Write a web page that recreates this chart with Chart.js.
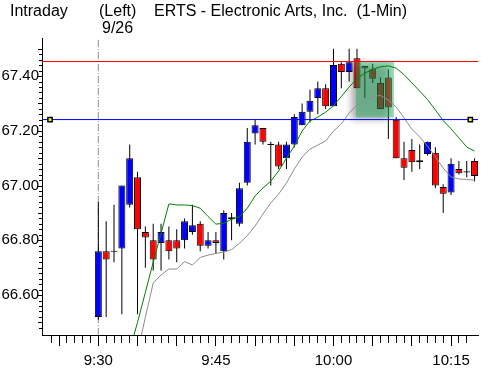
<!DOCTYPE html>
<html lang="en">
<head>
<meta charset="UTF-8">
<title>ERTS Intraday 1-Min</title>
<script src="https://cdn.jsdelivr.net/npm/chart.js"></script>
<style>
    body { margin: 0; background: #fff; }
    #wrap { position: relative; width: 495px; height: 371px; }
    #chart { position: absolute; left: 0; top: 0; }
    .lbl {
        position: absolute;
        font-family: 'Liberation Sans', Arial, sans-serif;
        font-size: 16px;
        line-height: 16px;
        color: #000;
        white-space: pre;
    }
</style>
</head>
<body>
<div id="wrap">
    <canvas id="chart" width="495" height="371"></canvas>
    <div class="lbl" style="left:10px;top:3px">Intraday</div>
    <div class="lbl" style="left:99px;top:3px">(Left)</div>
    <div class="lbl" style="left:102px;top:20px">9/26</div>
    <div class="lbl" style="left:154px;top:3px">ERTS - Electronic Arts, Inc.  (1-Min)</div>
</div>

<script>
// one candle per minute
var times = ['9:30','9:31','9:32','9:33','9:34','9:35','9:36','9:37','9:38','9:39',
             '9:40','9:41','9:42','9:43','9:44','9:45','9:46','9:47','9:48','9:49',
             '9:50','9:51','9:52','9:53','9:54','9:55','9:56','9:57','9:58','9:59',
             '10:00','10:01','10:02','10:03','10:04','10:05','10:06','10:07','10:08','10:09',
             '10:10','10:11','10:12','10:13','10:14','10:15','10:16','10:17','10:18'];
var opens  = [66.52, 66.76, 66.76, 66.77, 66.93, 67.03, 66.83, 66.80, 66.79, 66.80,
              66.80, 66.80, 66.83, 66.86, 66.78, 66.80, 66.76, 66.884, 66.86, 67.01,
              67.19, 67.21, 67.15, 67.15, 67.10, 67.15, 67.22, 67.27, 67.32, 67.355,
              67.29, 67.445, 67.415, 67.465, 67.437, 67.425, 67.375, 67.395, 67.24, 67.10,
              67.13, 67.085, 67.115, 67.12, 66.995, 66.975, 67.06, 67.05, 67.09];
var highs  = [66.94, 66.87, 66.93, 67.00, 67.15, 67.05, 66.85, 66.86, 66.86, 66.85,
              66.84, 66.88, 66.93, 66.87, 66.83, 66.83, 66.91, 66.90, 67.01, 67.21,
              67.24, 67.21, 67.16, 67.16, 67.16, 67.26, 67.30, 67.35, 67.38, 67.37,
              67.50, 67.45, 67.50, 67.50, 67.437, 67.445, 67.395, 67.425, 67.25, 67.16,
              67.17, 67.15, 67.16, 67.14, 67.005, 67.10, 67.09, 67.09, 67.10];
var lows   = [66.51, 66.52, 66.72, 66.53, 66.92, 66.53, 66.70, 66.69, 66.69, 66.73,
              66.72, 66.77, 66.82, 66.76, 66.77, 66.75, 66.73, 66.80, 66.85, 67.00,
              67.15, 67.15, 67.00, 67.06, 67.06, 67.14, 67.22, 67.23, 67.26, 67.28,
              67.29, 67.355, 67.38, 67.355, 67.32, 67.375, 67.28, 67.17, 67.10, 67.02,
              67.05, 67.06, 67.11, 66.99, 66.90, 66.965, 67.04, 67.03, 67.015];
var closes = [66.76, 66.73, 66.76, 67.00, 67.10, 66.84, 66.81, 66.73, 66.83, 66.76,
              66.77, 66.87, 66.855, 66.78, 66.80, 66.79, 66.90, 66.877, 66.99, 67.16,
              67.22, 67.16, 67.15, 67.07, 67.15, 67.25, 67.27, 67.31, 67.355, 67.29,
              67.44, 67.415, 67.45, 67.355, 67.428, 67.39, 67.28, 67.285, 67.10, 67.065,
              67.085, 67.092, 67.16, 67.00, 66.97, 67.08, 67.045, 67.05, 67.035];

// moving averages (null = not drawn)
var maShort = [null, null, null, null, 66.40, 66.50, 66.61, 66.72, 66.825, 66.933,
               66.929, 66.929, 66.927, 66.917, 66.887, 66.859, 66.862, 66.877, 66.886, 66.917,
               66.962, 66.991, 67.016, 67.053, 67.10, 67.144, 67.199, 67.236, 67.25, 67.268,
               67.292, 67.325, 67.36, 67.391, 67.411, 67.424, 67.434, 67.437, 67.429, 67.405,
               67.375, 67.345, 67.314, 67.276, 67.237, 67.207, 67.174, 67.141, 67.126];
var maLong  = [null, null, null, null, null, 66.39, 66.519, 66.644, 66.673, 66.695,
               66.695, 66.722, 66.71, 66.737, 66.746, 66.752, 66.757, 66.766, 66.789, 66.817,
               66.852, 66.896, 66.936, 66.969, 67.009, 67.06, 67.104, 67.133, 67.148, 67.163,
               67.199, 67.225, 67.265, 67.294, 67.312, 67.325, 67.329, 67.312, 67.287, 67.247,
               67.206, 67.177, 67.144, 67.104, 67.064, 67.031, 67.024, 67.022, 67.02];

var resistance = 67.453;
var support = 67.241;
var supportHandles = [563.84, 617.46];   // minutes of the two small handles on the support line
var sessionStart = '9:30';
var zoneStart = 602.85, zoneEnd = 607.7, zoneTop = 67.453, zoneBottom = 67.249;

var yTickLabels = ['66.60', '66.80', '67.00', '67.20', '67.40'];
var xTickLabels = ['9:30', '9:45', '10:00', '10:15'];
var xMin = 562.8125, xMax = 618.4375;
var yMin = 66.454, yMax = 67.539;

function toMin(t) {
    var p = t.split(':');
    return parseInt(p[0], 10) * 60 + parseInt(p[1], 10);
}
function toLabel(m) {
    var h = Math.floor(m / 60), mm = m % 60;
    return h + ':' + (mm < 10 ? '0' : '') + mm;
}

var wicks = [], bodies = [], bodyColors = [];
times.forEach(function(t, i) {
    var x = toMin(t);
    wicks.push({x: x, y: [lows[i], highs[i]]});
    var o = opens[i], c = closes[i];
    if (o === c) {
        bodies.push({x: x, y: [o - 0.002, o + 0.002]});
        bodyColors.push('#000000');
    } else {
        bodies.push({x: x, y: [o, c]});
        bodyColors.push(c > o ? '#0000ff' : '#ff0000');
    }
});
function series(arr) {
    var out = [];
    arr.forEach(function(v, i) { if (v !== null) out.push({x: toMin(times[i]), y: v}); });
    return out;
}

var decorations = {
    id: 'decorations',
    afterDatasetDraw: function(chart, args) {
        if (args.index !== 1) return;
        var sx = chart.scales.x, sy = chart.scales.y, ctx = chart.ctx;
        var l = sx.getPixelForValue(zoneStart), r = sx.getPixelForValue(zoneEnd);
        var t = sy.getPixelForValue(zoneTop), b = sy.getPixelForValue(zoneBottom);
        ctx.save();
        ctx.shadowColor = 'rgba(0,0,0,0.75)';
        ctx.shadowBlur = 7;
        ctx.shadowOffsetX = -5;
        ctx.shadowOffsetY = 3;
        ctx.fillStyle = 'rgba(30,175,95,0.45)';
        ctx.fillRect(l, t, r - l, b - t);
        ctx.restore();
    },
    afterDraw: function(chart) {
        var sx = chart.scales.x, sy = chart.scales.y, ctx = chart.ctx, area = chart.chartArea;
        ctx.save();
        ctx.strokeStyle = '#000';
        ctx.lineWidth = 1;
        ctx.beginPath();
        sy.ticks.forEach(function(tk) {
            var k = Math.round(tk.value * 50);
            if (Math.abs(tk.value * 50 - k) > 1e-6) return;
            var len = k % 10 === 0 ? 5 : (k % 5 === 0 ? 4 : 3);
            var py = Math.round(sy.getPixelForValue(tk.value)) + 0.5;
            ctx.moveTo(area.left - len, py);
            ctx.lineTo(area.left, py);
        });
        sx.ticks.forEach(function(tk) {
            var k = Math.round(tk.value);
            if (Math.abs(tk.value - k) > 1e-6) return;
            var len = k % 5 === 0 ? 11 : 8;
            var px = Math.round(sx.getPixelForValue(tk.value) - 0.5) + 0.5;
            ctx.moveTo(px, area.bottom);
            ctx.lineTo(px, area.bottom + len);
        });
        ctx.stroke();
        ctx.restore();
    }
};

var ctx = document.getElementById('chart').getContext('2d');
var chart = new Chart(ctx, {
    type: 'bar',
    data: {
        datasets: [
            {
                label: 'wick',
                data: wicks,
                backgroundColor: '#000',
                borderWidth: 0,
                barThickness: 1,
                grouped: false,
                inflateAmount: 0,
                order: 5
            },
            {
                label: 'body',
                data: bodies,
                backgroundColor: bodyColors,
                borderColor: '#000',
                borderWidth: 1,
                borderSkipped: false,
                barThickness: 7,
                grouped: false,
                inflateAmount: 0,
                order: 4
            },
            {
                type: 'line',
                label: 'MA short',
                data: series(maShort),
                borderColor: '#008000',
                borderWidth: 1,
                pointRadius: 0,
                tension: 0,
                order: 3
            },
            {
                type: 'line',
                label: 'MA long',
                data: series(maLong),
                borderColor: '#8c8c8c',
                borderWidth: 1,
                pointRadius: 0,
                tension: 0,
                order: 3
            },
            {
                type: 'line',
                label: 'session',
                data: [{x: toMin(sessionStart), y: yMin}, {x: toMin(sessionStart), y: yMax}],
                borderColor: '#909090',
                borderWidth: 1,
                borderDash: [7, 2, 1, 2],
                pointRadius: 0,
                order: 6
            },
            {
                type: 'line',
                label: 'resistance',
                data: [{x: xMin, y: resistance}, {x: xMax, y: resistance}],
                borderColor: '#ff0000',
                borderWidth: 1,
                pointRadius: 0,
                order: 2
            },
            {
                type: 'line',
                label: 'support',
                data: [{x: xMin, y: support}, {x: xMax, y: support}],
                borderColor: '#0000ff',
                borderWidth: 1,
                pointRadius: 0,
                order: 2
            },
            {
                type: 'line',
                label: 'handles',
                data: supportHandles.map(function(m) { return {x: m, y: support}; }),
                showLine: false,
                pointStyle: 'rect',
                pointRadius: 3,
                pointHoverRadius: 3,
                pointBackgroundColor: '#ffff00',
                pointBorderColor: '#000',
                pointBorderWidth: 1.5,
                order: 1
            }
        ]
    },
    options: {
        responsive: false,
        animation: false,
        devicePixelRatio: 1,
        layout: { padding: { left: 0, right: 8, top: 38, bottom: 0 } },
        plugins: {
            legend: { display: false },
            tooltip: { enabled: false }
        },
        scales: {
            x: {
                type: 'linear',
                min: xMin,
                max: xMax,
                offset: false,
                grid: { display: false, drawTicks: false, offset: false },
                border: { display: true, color: '#000', width: 1 },
                ticks: {
                    stepSize: 1,
                    autoSkip: false,
                    maxRotation: 0,
                    padding: 17,
                    color: '#000',
                    font: { family: "'Liberation Sans', Arial, sans-serif", size: 15 },
                    callback: function(v) {
                        if (Math.abs(v - Math.round(v)) > 1e-6) return '';
                        var s = toLabel(Math.round(v));
                        return xTickLabels.indexOf(s) >= 0 ? s : '';
                    }
                },
                afterFit: function(scale) { scale.height = 36; }
            },
            y: {
                min: yMin,
                max: yMax,
                grid: { display: false, drawTicks: false },
                border: { display: true, color: '#000', width: 1 },
                ticks: {
                    stepSize: 0.02,
                    autoSkip: false,
                    padding: 3,
                    color: '#000',
                    font: { family: "'Liberation Sans', Arial, sans-serif", size: 15 },
                    callback: function(v) {
                        var s = v.toFixed(2);
                        return yTickLabels.indexOf(s) >= 0 ? s : '';
                    }
                },
                afterFit: function(scale) { scale.width = 42; }
            }
        }
    },
    plugins: [decorations]
});
</script>
</body>
</html>
